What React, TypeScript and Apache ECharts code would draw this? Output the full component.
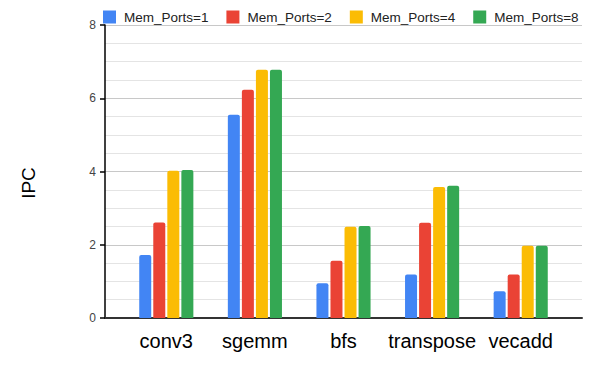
import React, { useEffect, useRef } from "react";
import * as echarts from "echarts";

const categories = ["conv3", "sgemm", "bfs", "transpose", "vecadd"];
const seriesNames = ["Mem_Ports=1", "Mem_Ports=2", "Mem_Ports=4", "Mem_Ports=8"];
const ports1 = [1.72, 5.55, 0.95, 1.19, 0.73];
const ports2 = [2.61, 6.23, 1.56, 2.6, 1.19];
const ports4 = [4.02, 6.78, 2.49, 3.58, 1.97];
const ports8 = [4.04, 6.78, 2.51, 3.61, 1.97];
const colors = ["#4285F4", "#EA4335", "#FBBC04", "#34A853"];

export default function App() {
  const ref = useRef<HTMLDivElement>(null);
  useEffect(() => {
    if (!ref.current) return;
    const chart = echarts.init(ref.current, undefined, { renderer: "svg" });
    const values = [ports1, ports2, ports4, ports8];
    const font = "Liberation Sans, Arial, sans-serif";
    chart.setOption({
      animation: false,
      textStyle: { fontFamily: font },
      legend: {
        top: 10,
        left: 103,
        padding: 0,
        itemWidth: 13,
        itemHeight: 13,
        itemGap: 18,
        icon: "rect",
        textStyle: { fontSize: 13.5, color: "#222", fontFamily: font, padding: [0, 0, 0, 3] },
        data: seriesNames,
      },
      graphic: [
        {
          type: "text",
          x: 28,
          y: 183,
          rotation: Math.PI / 2,
          style: {
            text: "IPC",
            fontSize: 19,
            fill: "#000",
            fontFamily: font,
            align: "center",
            verticalAlign: "middle",
          },
        },
      ],
      grid: [
        { left: 105, right: 18, top: 25, bottom: 53 },
        { left: 122, width: 443, top: 25, bottom: 53 },
      ],
      xAxis: [
        {
          gridIndex: 0,
          type: "value",
          min: 0,
          max: 1,
          axisLine: { show: true, onZero: false, lineStyle: { color: "#333", width: 2 } },
          axisTick: { show: false },
          axisLabel: { show: false },
          splitLine: { show: false },
        },
        {
          gridIndex: 1,
          type: "category",
          data: categories,
          axisLine: { show: false },
          axisTick: { show: false },
          axisLabel: { fontSize: 20, color: "#000", margin: 13, interval: 0, fontFamily: font },
        },
      ],
      yAxis: [
        {
          gridIndex: 0,
          type: "value",
          min: 0,
          max: 8,
          interval: 2,
          axisLine: { show: true, lineStyle: { color: "#000", width: 1.5 } },
          axisTick: { show: true, length: 5, lineStyle: { color: "#000", width: 1.5 } },
          axisLabel: { fontSize: 12, color: "#444", margin: 9, fontFamily: font },
          splitLine: { show: true, lineStyle: { color: "#c8c8c8", width: 1 } },
          minorTick: { show: false, splitNumber: 4 },
          minorSplitLine: { show: true, lineStyle: { color: "#e4e4e4", width: 1 } },
        },
        {
          gridIndex: 1,
          type: "value",
          min: 0,
          max: 8,
          show: false,
          splitLine: { show: false },
        },
      ],
      series: seriesNames.map((name, i) => ({
        name,
        type: "bar",
        xAxisIndex: 1,
        yAxisIndex: 1,
        data: values[i],
        barWidth: 12,
        barGap: "17%",
        itemStyle: { color: colors[i], borderRadius: [2, 2, 0, 0] },
      })),
    });
    return () => chart.dispose();
  }, []);
  return (
    <div
      ref={ref}
      style={{ width: 600, height: 371, position: "absolute", left: 0, top: 0 }}
    />
  );
}
